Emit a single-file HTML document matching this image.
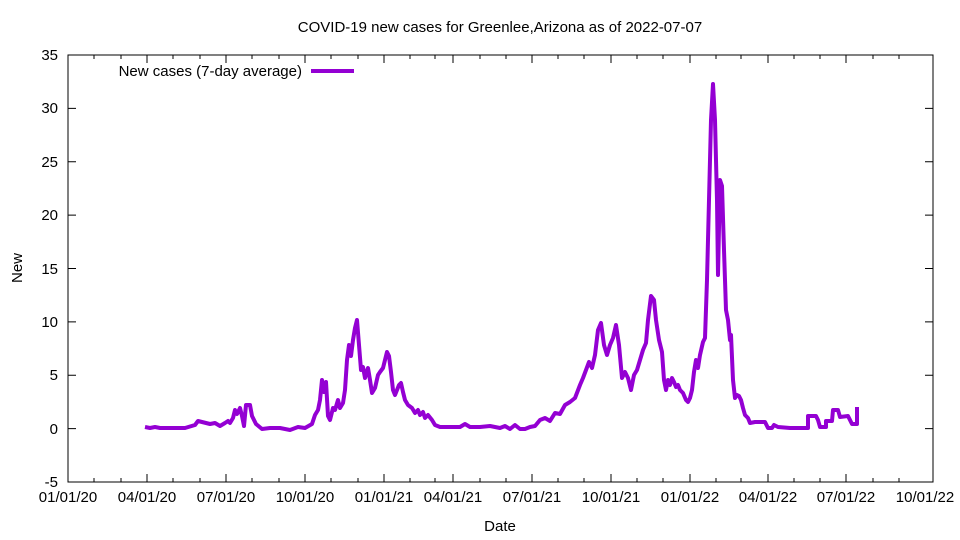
<!DOCTYPE html>
<html><head><meta charset="utf-8"><style>body{margin:0;background:#fff}svg{display:block}</style></head><body>
<svg width="960" height="540" xmlns="http://www.w3.org/2000/svg" font-family="Liberation Sans, sans-serif" font-size="15">
<rect width="960" height="540" fill="#fff"/>
<text x="500" y="32" text-anchor="middle">COVID-19 new cases for Greenlee,Arizona as of 2022-07-07</text>
<g id="ticks" stroke="#000" stroke-width="1">
<path d="M68,482h8M933,482h-8M68,428.6h8M933,428.6h-8M68,375.2h8M933,375.2h-8M68,321.9h8M933,321.9h-8M68,268.5h8M933,268.5h-8M68,215.1h8M933,215.1h-8M68,161.7h8M933,161.7h-8M68,108.4h8M933,108.4h-8M68,55h8M933,55h-8"/>
<path d="M68,482v-8M68,55v8M147,482v-8M147,55v8M226,482v-8M226,55v8M305,482v-8M305,55v8M384,482v-8M384,55v8M453,482v-8M453,55v8M532,482v-8M532,55v8M611,482v-8M611,55v8M690,482v-8M690,55v8M768,482v-8M768,55v8M846,482v-8M846,55v8M933,482v-8M933,55v8"/>
<path d="M94,482v-4M94,55v4M121,482v-4M121,55v4M173,482v-4M173,55v4M200,482v-4M200,55v4M252,482v-4M252,55v4M279,482v-4M279,55v4M331,482v-4M331,55v4M358,482v-4M358,55v4M410,482v-4M410,55v4M435,482v-4M435,55v4M480,482v-4M480,55v4M506,482v-4M506,55v4M558,482v-4M558,55v4M584,482v-4M584,55v4M637,482v-4M637,55v4M663,482v-4M663,55v4M716,482v-4M716,55v4M741,482v-4M741,55v4M794,482v-4M794,55v4M820,482v-4M820,55v4M873,482v-4M873,55v4M899,482v-4M899,55v4"/>
</g>
<rect x="68" y="55" width="865" height="427" fill="none" stroke="#000" stroke-width="1"/>
<g text-anchor="end">
<text x="58" y="487">-5</text><text x="58" y="434">0</text><text x="58" y="380">5</text><text x="58" y="327">10</text><text x="58" y="274">15</text><text x="58" y="220">20</text><text x="58" y="167">25</text><text x="58" y="113">30</text><text x="58" y="60">35</text>
</g>
<g text-anchor="middle">
<text x="68" y="502">01/01/20</text><text x="147" y="502">04/01/20</text><text x="226" y="502">07/01/20</text><text x="305" y="502">10/01/20</text><text x="384" y="502">01/01/21</text><text x="453" y="502">04/01/21</text><text x="532" y="502">07/01/21</text><text x="611" y="502">10/01/21</text><text x="690" y="502">01/01/22</text><text x="768" y="502">04/01/22</text><text x="846" y="502">07/01/22</text><text x="925" y="502">10/01/22</text>
<text x="500" y="531">Date</text>
</g>
<text x="22" y="268" text-anchor="middle" transform="rotate(-90 22 268)">New</text>
<text x="302" y="76" text-anchor="end">New cases (7-day average)</text>
<path d="M311,71h43" stroke="#9400d3" stroke-width="4"/>
<polyline fill="none" stroke="#9400d3" stroke-width="4" stroke-linejoin="round" points="145,427 150,428 155,427 160,428 185,428 195,425 198,421 202,422 210,424 215,423 220,426 225,423 228,421 230,423 233,418 235,410 237,414 240,408 242,416 244,426 246,405 250,405 252,416 256,424 262,429 270,428 280,428 290,430 298,427 305,428 312,424 315,415 318,410 320,400 322,380 324,392 326,382 328,416 330,420 333,408 335,410 338,400 340,408 343,403 345,390 347,360 349,345 351,356 353,340 355,328 357,320 359,345 361,370 363,367 365,378 368,368 370,380 372,393 375,388 378,375 380,372 383,368 385,360 387,352 389,356 391,372 393,390 395,395 397,390 399,385 401,383 403,392 405,400 408,405 412,408 415,413 418,410 420,415 423,412 425,418 428,415 432,420 435,425 440,427 450,427 460,427 465,424 470,427 480,427 490,426 500,428 505,426 510,429 515,425 520,429 525,429 530,427 535,426 540,420 545,418 550,421 555,413 560,414 565,405 570,402 575,398 580,385 583,378 586,370 589,362 592,368 595,355 598,330 601,323 604,345 607,355 610,345 613,338 616,325 619,345 622,378 625,372 628,378 631,390 634,375 637,370 640,360 643,350 646,343 648,320 651,296 654,300 656,320 659,340 662,352 664,380 666,390 668,380 670,385 672,378 674,382 676,387 678,385 680,390 683,393 686,400 688,402 690,398 692,390 694,372 696,360 698,368 700,355 703,342 705,338 707,280 709,200 711,120 713,84 715,120 717,200 718,275 720,180 722,186 724,250 726,310 728,320 730,340 731,335 733,380 735,398 737,395 739,396 741,400 743,408 745,415 748,418 750,423 755,422 765,422 768,428 772,428 774,425 778,427 790,428 808,428 808,416 816,416 818,420 820,427 826,427 826,421 832,421 833,410 838,410 840,417 848,416 852,424 857,424 857,407"/>
</svg>
</body></html>
